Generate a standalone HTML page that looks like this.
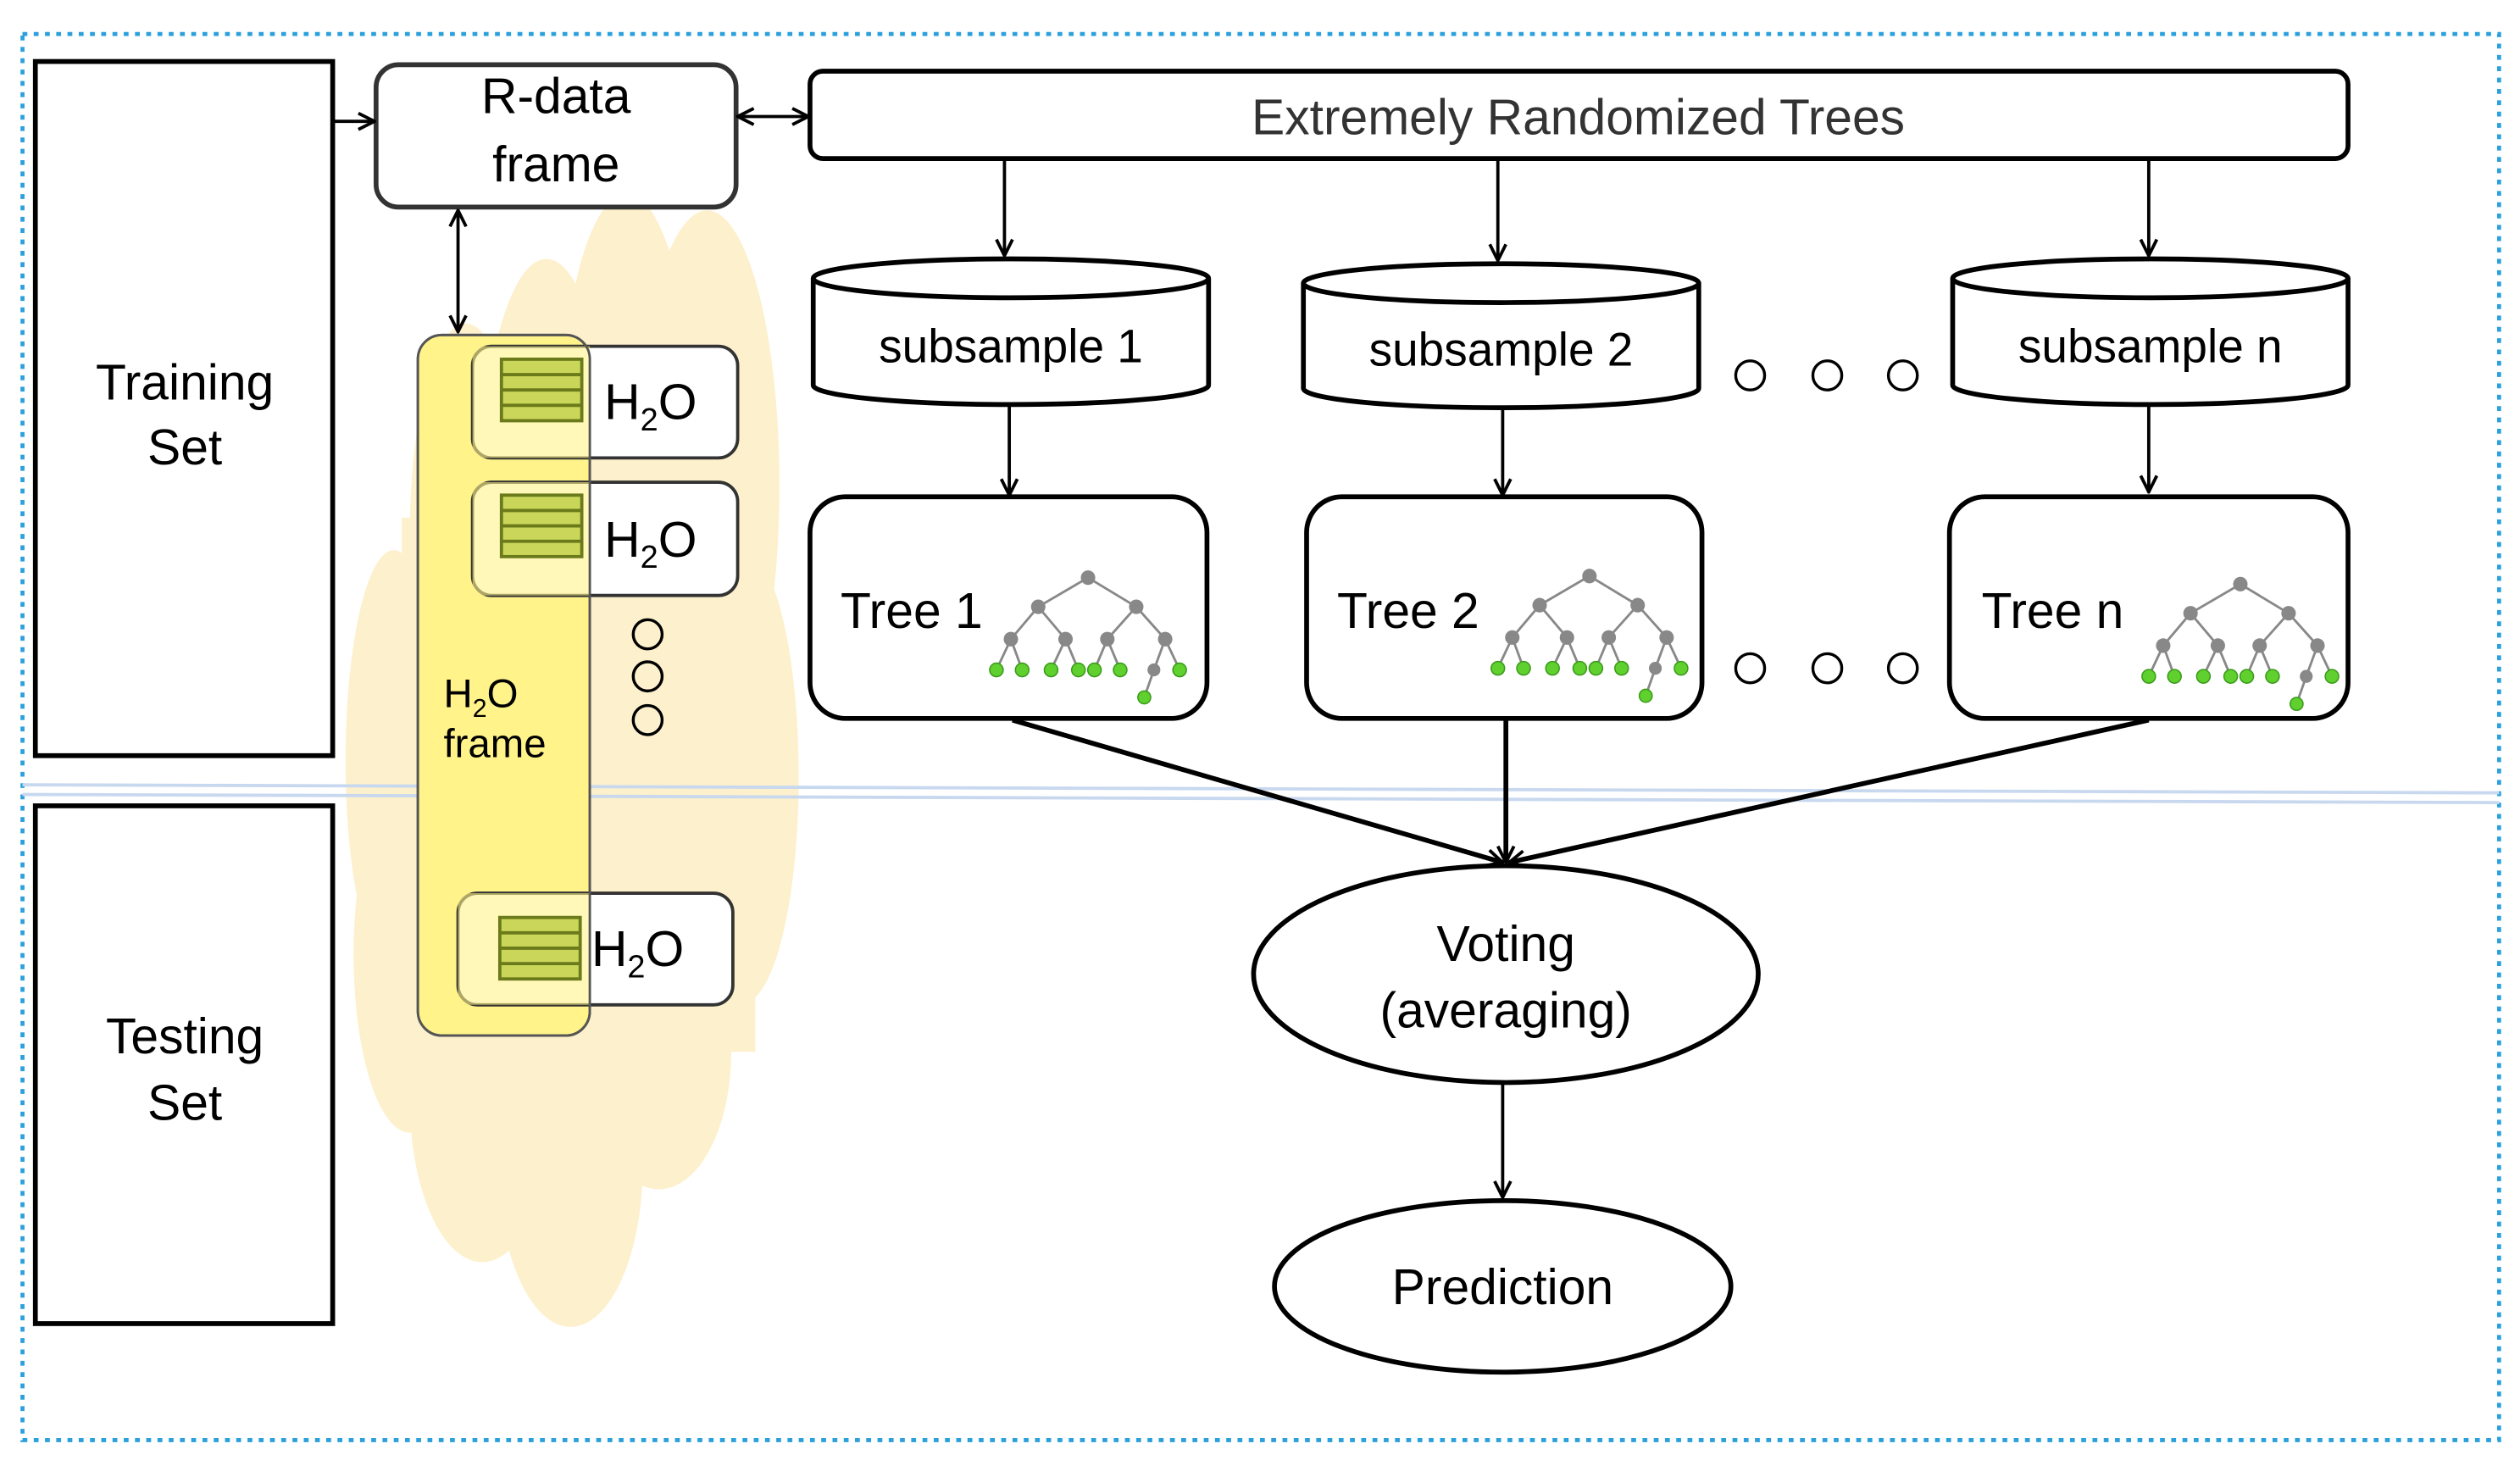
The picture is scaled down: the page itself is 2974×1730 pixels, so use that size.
<!DOCTYPE html>
<html><head><meta charset="utf-8"><style>html,body{margin:0;padding:0;background:#fff}svg{display:block}text{font-family:"Liberation Sans",Arial,sans-serif}</style></head>
<body>
<svg width="2974" height="1730" viewBox="0 0 1568 906" preserveAspectRatio="none" xmlns="http://www.w3.org/2000/svg">
<defs>
<marker id="ah" viewBox="0 0 12 12" refX="11" refY="6" markerWidth="12" markerHeight="12" markerUnits="userSpaceOnUse" orient="auto-start-reverse">
<path d="M1,1 L11,6 L1,11" fill="none" stroke="#000" stroke-width="2"/></marker>
<g id="tree">
<g stroke="#888" stroke-width="1.5">
<line x1="0" y1="0" x2="-31" y2="18"/><line x1="0" y1="0" x2="30" y2="18"/>
<line x1="-31" y1="18" x2="-48" y2="38"/><line x1="-31" y1="18" x2="-14" y2="38"/>
<line x1="30" y1="18" x2="12" y2="38"/><line x1="30" y1="18" x2="48" y2="38"/>
<line x1="-48" y1="38" x2="-57" y2="57"/><line x1="-48" y1="38" x2="-41" y2="57"/>
<line x1="-14" y1="38" x2="-23" y2="57"/><line x1="-14" y1="38" x2="-6" y2="57"/>
<line x1="12" y1="38" x2="4" y2="57"/><line x1="12" y1="38" x2="20" y2="57"/>
<line x1="48" y1="38" x2="41" y2="57"/><line x1="48" y1="38" x2="57" y2="57"/>
<line x1="41" y1="57" x2="35" y2="74"/></g>
<g fill="#888"><circle cx="0" cy="0" r="4.5"/><circle cx="-31" cy="18" r="4.5"/><circle cx="30" cy="18" r="4.5"/>
<circle cx="-48" cy="38" r="4.5"/><circle cx="-14" cy="38" r="4.5"/><circle cx="12" cy="38" r="4.5"/><circle cx="48" cy="38" r="4.5"/><circle cx="41" cy="57" r="4"/></g>
<g fill="#5fd02e" stroke="#3a9a1a" stroke-width="0.8"><circle cx="-57" cy="57" r="4.2"/><circle cx="-41" cy="57" r="4.2"/><circle cx="-23" cy="57" r="4.2"/><circle cx="-6" cy="57" r="4.2"/><circle cx="4" cy="57" r="4.2"/><circle cx="20" cy="57" r="4.2"/><circle cx="57" cy="57" r="4.2"/><circle cx="35" cy="74" r="4"/></g>
</g>
<g id="icon">
<rect x="0" y="0" width="50" height="38" fill="#c9d65a" stroke="#6b7a1a" stroke-width="2"/>
<g stroke="#6b7a1a" stroke-width="2"><line x1="0" y1="9.5" x2="50" y2="9.5"/><line x1="0" y1="19" x2="50" y2="19"/><line x1="0" y1="28.5" x2="50" y2="28.5"/></g>
</g>
</defs>
<!-- cloud -->
<g fill="#fdf0cc">
<ellipse cx="245" cy="470" rx="30" ry="130"/>
<ellipse cx="255" cy="590" rx="35" ry="110"/>
<ellipse cx="300" cy="680" rx="45" ry="100"/>
<ellipse cx="355" cy="720" rx="45" ry="100"/>
<ellipse cx="410" cy="650" rx="45" ry="85"/>
<ellipse cx="462" cy="480" rx="35" ry="140"/>
<ellipse cx="440" cy="300" rx="45" ry="170"/>
<ellipse cx="390" cy="260" rx="40" ry="140"/>
<ellipse cx="340" cy="300" rx="40" ry="140"/>
<ellipse cx="290" cy="330" rx="35" ry="130"/>
<rect x="250" y="320" width="220" height="330"/>
</g>
<!-- borders -->
<rect x="14" y="21" width="1541" height="869" fill="none" stroke="#2aa0dc" stroke-width="2.5" stroke-dasharray="3,4"/>
<line x1="14" y1="485" x2="1555" y2="490" stroke="#c8d8ef" stroke-width="2"/>
<line x1="14" y1="491" x2="1555" y2="496" stroke="#c8d8ef" stroke-width="2"/>
<!-- training/testing -->
<rect x="22" y="38" width="185" height="429" fill="#fff" stroke="#000" stroke-width="3"/>
<text x="115" y="247" font-size="31" text-anchor="middle">Training</text>
<text x="115" y="287" font-size="31" text-anchor="middle">Set</text>
<rect x="22" y="498" width="185" height="320" fill="#fff" stroke="#000" stroke-width="3"/>
<text x="115" y="651" font-size="31" text-anchor="middle">Testing</text>
<text x="115" y="692" font-size="31" text-anchor="middle">Set</text>
<!-- R-data -->
<rect x="234" y="40" width="224" height="88" rx="14" fill="#fff" stroke="#333" stroke-width="3"/>
<text x="346" y="70" font-size="31" text-anchor="middle">R-data</text>
<text x="346" y="112" font-size="31" text-anchor="middle">frame</text>
<line x1="207" y1="75" x2="233" y2="75" stroke="#000" stroke-width="2" marker-end="url(#ah)"/>
<line x1="459" y1="72" x2="503" y2="72" stroke="#000" stroke-width="2" marker-start="url(#ah)" marker-end="url(#ah)"/>
<line x1="285" y1="130" x2="285" y2="205" stroke="#000" stroke-width="2" marker-start="url(#ah)" marker-end="url(#ah)"/>
<!-- ERT -->
<rect x="504" y="44" width="957" height="54" rx="8" fill="#fff" stroke="#000" stroke-width="3"/>
<text x="982" y="83" font-size="31" text-anchor="middle" fill="#333">Extremely Randomized Trees</text>
<!-- H2O frame -->
<rect x="260" y="207" width="107" height="433" rx="15" fill="#fff38a" stroke="#555" stroke-width="1.5"/>
<rect x="294" y="214" width="165" height="69" rx="12" fill="#fff" stroke="#333" stroke-width="2"/>
<rect x="294" y="298" width="165" height="70" rx="12" fill="#fff" stroke="#333" stroke-width="2"/>
<rect x="285" y="552" width="171" height="69" rx="12" fill="#fff" stroke="#333" stroke-width="2"/>
<path d="M294,214 H367 V283 H294 Z M294,298 H367 V368 H294 Z M285,552 H367 V621 H285 Z" fill="#fff38a" fill-opacity="0.6"/>
<rect x="260" y="207" width="107" height="433" rx="15" fill="none" stroke="#555" stroke-width="1.5"/>
<use href="#icon" x="312" y="222"/>
<use href="#icon" x="312" y="306"/>
<use href="#icon" x="311" y="567"/>
<text x="376" y="259" font-size="31">H<tspan font-size="20" dy="7">2</tspan><tspan dy="-7">O</tspan></text>
<text x="376" y="344" font-size="31">H<tspan font-size="20" dy="7">2</tspan><tspan dy="-7">O</tspan></text>
<text x="368" y="597" font-size="31">H<tspan font-size="20" dy="7">2</tspan><tspan dy="-7">O</tspan></text>
<text x="276" y="437" font-size="25">H<tspan font-size="16" dy="6">2</tspan><tspan dy="-6">O</tspan></text>
<text x="276" y="468" font-size="25">frame</text>
<g fill="none" stroke="#000" stroke-width="1.8"><circle cx="403" cy="392" r="9"/><circle cx="403" cy="418" r="9"/><circle cx="403" cy="445" r="9"/>
<circle cx="1089" cy="232" r="9"/><circle cx="1137" cy="232" r="9"/><circle cx="1184" cy="232" r="9"/>
<circle cx="1089" cy="413" r="9"/><circle cx="1137" cy="413" r="9"/><circle cx="1184" cy="413" r="9"/></g>
<!-- cylinders -->
<g fill="#fff" stroke="#000" stroke-width="3">
<path d="M506,172 V238 A123,12 0 0 0 752,238 V172"/><ellipse cx="629" cy="172" rx="123" ry="12"/>
<path d="M811,175 V240 A123,12 0 0 0 1057,240 V175"/><ellipse cx="934" cy="175" rx="123" ry="12"/>
<path d="M1215,172 V238 A123,12 0 0 0 1461,238 V172"/><ellipse cx="1338" cy="172" rx="123" ry="12"/>
</g>
<text x="629" y="224" font-size="29" text-anchor="middle">subsample 1</text>
<text x="934" y="226" font-size="29" text-anchor="middle">subsample 2</text>
<text x="1338" y="224" font-size="29" text-anchor="middle">subsample n</text>
<g stroke="#000" stroke-width="2">
<line x1="625" y1="98" x2="625" y2="158" marker-end="url(#ah)"/>
<line x1="932" y1="98" x2="932" y2="161" marker-end="url(#ah)"/>
<line x1="1337" y1="98" x2="1337" y2="158" marker-end="url(#ah)"/>
<line x1="628" y1="251" x2="628" y2="306" marker-end="url(#ah)"/>
<line x1="935" y1="253" x2="935" y2="306" marker-end="url(#ah)"/>
<line x1="1337" y1="251" x2="1337" y2="304" marker-end="url(#ah)"/>
</g>
<!-- trees -->
<g fill="#fff" stroke="#000" stroke-width="3">
<rect x="504" y="307" width="247" height="137" rx="22"/>
<rect x="813" y="307" width="246" height="137" rx="22"/>
<rect x="1213" y="307" width="248" height="137" rx="22"/>
</g>
<text x="523" y="388" font-size="31">Tree 1</text>
<text x="832" y="388" font-size="31">Tree 2</text>
<text x="1233" y="388" font-size="31">Tree n</text>
<use href="#tree" x="677" y="357"/>
<use href="#tree" x="989" y="356"/>
<use href="#tree" x="1394" y="361"/>
<!-- to voting -->
<g stroke="#000" stroke-width="3">
<line x1="630" y1="445" x2="935" y2="533" marker-end="url(#ah)"/>
<line x1="937" y1="445" x2="937" y2="533" marker-end="url(#ah)"/>
<line x1="1337" y1="445" x2="939" y2="533" marker-end="url(#ah)"/>
</g>
<ellipse cx="937" cy="602" rx="157" ry="67" fill="#fff" stroke="#000" stroke-width="3"/>
<text x="937" y="594" font-size="31" text-anchor="middle">Voting</text>
<text x="937" y="635" font-size="31" text-anchor="middle">(averaging)</text>
<line x1="935" y1="670" x2="935" y2="740" stroke="#000" stroke-width="2" marker-end="url(#ah)"/>
<ellipse cx="935" cy="795" rx="142" ry="53" fill="#fff" stroke="#000" stroke-width="3"/>
<text x="935" y="806" font-size="31" text-anchor="middle">Prediction</text>
</svg>
</body></html>
